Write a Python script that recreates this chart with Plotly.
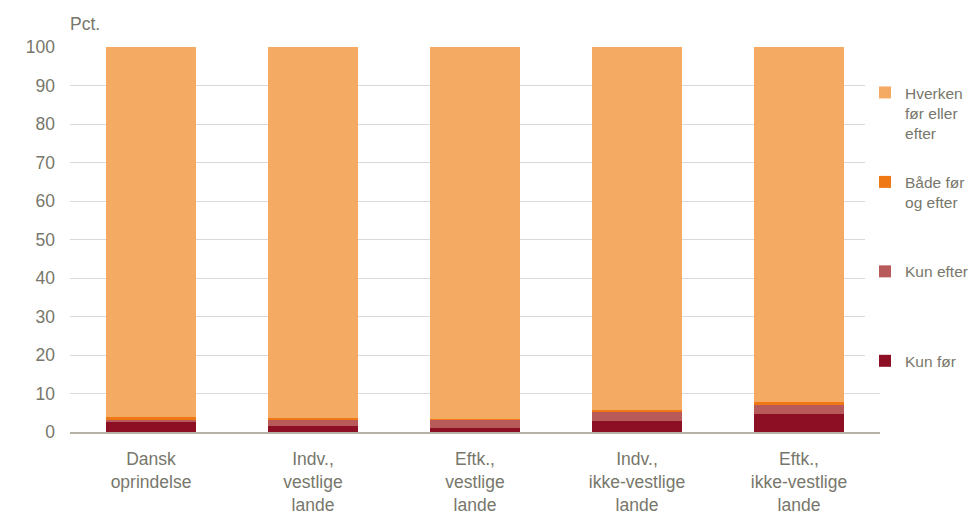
import plotly.graph_objects as go

categories = ["Dansk<br>oprindelse", "Indv.,<br>vestlige<br>lande", "Eftk.,<br>vestlige<br>lande",
              "Indv.,<br>ikke-vestlige<br>lande", "Eftk.,<br>ikke-vestlige<br>lande"]
kun_foer = [2.5, 1.6, 1.1, 2.9, 4.7]
kun_efter = [0.8, 1.7, 2.2, 2.3, 2.2]
baade = [0.5, 0.3, 0.1, 0.4, 1.0]
hverken = [round(100 - a - b - c, 1) for a, b, c in zip(kun_foer, kun_efter, baade)]

series_values = [kun_foer, kun_efter, baade, hverken]
colors = ["#8C0F23", "#B95A5A", "#F07814", "#F5AA64"]
legend_names = ["Kun før", "Kun efter<br> <br> ", "Både før<br>og efter<br> ", "Hverken<br>før eller<br>efter"]
legend_ranks = [4, 3, 2, 1]

txt = "#77776B"
FONT = "Liberation Sans, Arial, sans-serif"
FS = 17.5
LFS = 15.5
fig = go.Figure()
for name, vals, col, rank in zip(legend_names, series_values, colors, legend_ranks):
    fig.add_trace(go.Bar(x=categories, y=vals, name=name, marker=dict(color=col, line=dict(width=0)),
                         legendgroup=name, legendrank=rank))

# page body has an 8px margin, so the figure is sized 971x512 and offset accordingly
fig.update_layout(
    barmode="stack", bargap=0.45,
    width=971, height=512,
    margin=dict(l=62, r=99, t=39, b=88, autoexpand=False),
    paper_bgcolor="white", plot_bgcolor="white",
    font=dict(family=FONT, size=FS, color=txt),
    legend=dict(x=0.9815, xanchor="left", y=0.925, yanchor="top", traceorder="grouped",
                valign="top", tracegroupgap=26, font=dict(size=LFS, color=txt, family=FONT),
                itemwidth=30),
    showlegend=True,
    annotations=[dict(text="Pct.", x=0, xref="paper", xanchor="left", y=1, yref="paper",
                      yanchor="bottom", yshift=11, xshift=-2, showarrow=False,
                      font=dict(size=FS, color=txt))],
)
fig.update_yaxes(range=[0, 100], dtick=10, showgrid=True, gridcolor="#D9D9D9", gridwidth=1,
                 zeroline=False, showline=False, ticks="", tickfont=dict(size=FS, color=txt),
                 ticklabelstandoff=14, automargin=False)
fig.update_xaxes(showline=True, linecolor="#B4B2A5", linewidth=2, ticks="",
                 tickfont=dict(size=FS, color=txt), ticklabelstandoff=10, automargin=False)

fig.write_html("out.html")
